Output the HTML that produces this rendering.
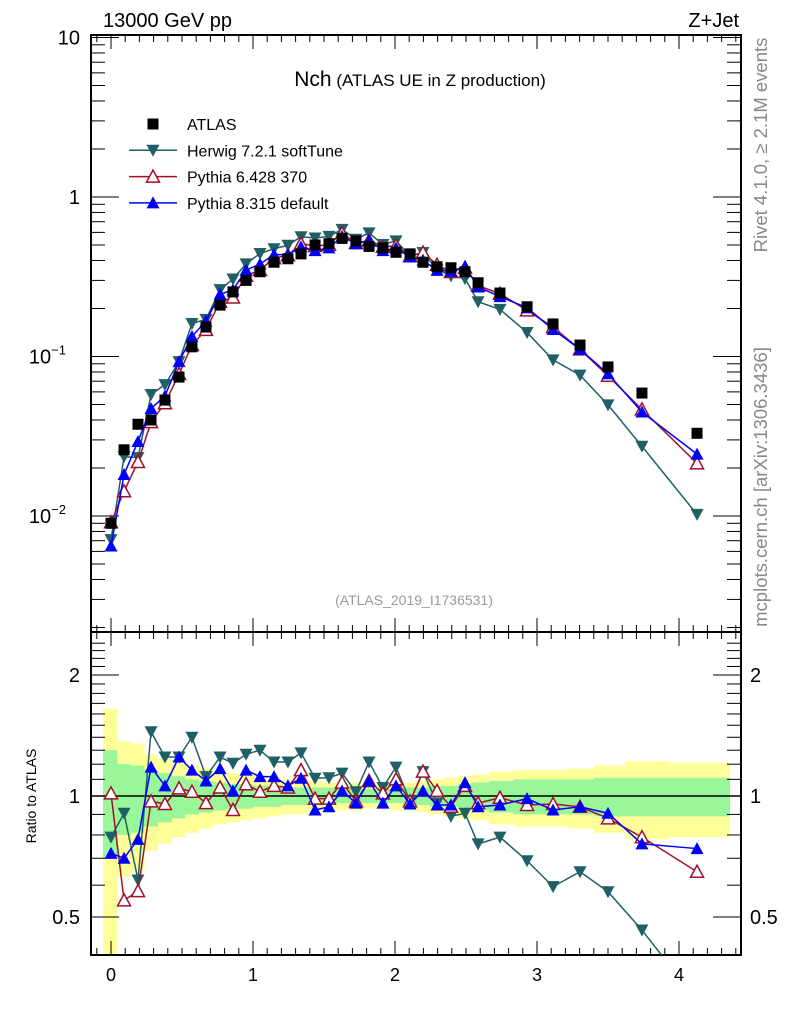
<!DOCTYPE html>
<html><head><meta charset="utf-8"><style>
body{margin:0;background:#fff;}
svg{display:block;font-family:"Liberation Sans",sans-serif;}
</style></head><body>
<svg id="c" width="786" height="1024" viewBox="0 0 786 1024" xmlns="http://www.w3.org/2000/svg">
<text x="103" y="27" font-size="20">13000 GeV pp</text>
<text x="739" y="27" font-size="20" text-anchor="end">Z+Jet</text>
<text x="420" y="86" text-anchor="middle"><tspan font-size="21">Nch</tspan><tspan font-size="17"> (ATLAS UE in Z production)</tspan></text>
<text x="414" y="605" font-size="14" fill="#999" text-anchor="middle">(ATLAS_2019_I1736531)</text>
<text transform="translate(767,145) rotate(-90)" font-size="18.5" fill="#888" text-anchor="middle">Rivet 4.1.0, ≥ 2.1M events</text>
<text transform="translate(767,487) rotate(-90)" font-size="18.5" fill="#888" text-anchor="middle">mcplots.cern.ch [arXiv:1306.3436]</text>
<text transform="translate(36,796) rotate(-90)" font-size="14" text-anchor="middle">Ratio to ATLAS</text>
<g id="bands"></g><g id="axes"></g><g id="series"></g><g id="legend"></g>
</svg>
<script>
const xs=[0,0.092,0.190,0.282,0.380,0.479,0.570,0.669,0.768,0.859,0.951,1.049,1.148,1.246,1.338,1.437,1.535,1.627,1.725,1.817,1.915,2.007,2.106,2.197,2.296,2.394,2.493,2.585,2.739,2.930,3.113,3.303,3.500,3.739,4.127];
const atlas=[0.009,0.026,0.0376,0.040,0.0533,0.0743,0.115,0.153,0.21,0.254,0.30,0.34,0.39,0.41,0.44,0.50,0.51,0.55,0.53,0.49,0.48,0.45,0.44,0.39,0.365,0.36,0.34,0.29,0.25,0.205,0.16,0.118,0.086,0.059,0.033];
const herwigRatio=[0.79,0.906,0.618,1.445,1.25,1.25,1.40,1.117,1.25,1.206,1.27,1.30,1.215,1.215,1.28,1.107,1.11,1.14,1.025,1.215,1.05,1.18,0.97,1.15,0.96,0.89,0.906,0.76,0.79,0.69,0.595,0.648,0.578,0.464,0.31];
const py6Ratio=[1.015,0.55,0.58,0.97,0.955,1.045,1.025,0.96,1.05,0.923,1.07,1.025,1.06,1.05,1.16,0.985,0.985,1.08,0.97,1.09,1.015,1.10,0.97,1.15,1.03,0.94,1.06,0.96,0.99,0.95,0.955,0.94,0.88,0.79,0.648];
const py8Ratio=[0.72,0.70,0.78,1.18,1.06,1.25,1.16,1.09,1.17,1.03,1.16,1.117,1.117,1.06,1.107,0.923,0.94,1.03,0.96,1.09,0.96,1.06,0.955,1.03,0.95,0.95,1.08,0.94,0.95,0.985,0.923,0.94,0.906,0.76,0.74];
const yellowErr=[.65,.37,.35,.27,.24,.21,.19,.17,.15,.14,.13,.12,.11,.10,.10,.09,.08,.08,.08,.07,.07,.08,.08,.09,.10,.11,.12,.13,.15,.16,.16,.17,.19,.22,.21];
const greenErr=[.30,.20,.19,.16,.14,.12,.10,.09,.08,.07,.07,.06,.06,.05,.05,.05,.05,.04,.04,.04,.04,.04,.05,.05,.06,.06,.07,.08,.09,.10,.10,.10,.11,.11,.11];
const mainTicks=[{v:10,t:"10"},{v:1,t:"1"},{v:0.1,t:"10",e:"−1"},{v:0.01,t:"10",e:"−2"}];
const ratioTicks=[2,1,0.5];
const xTicks=[0,1,2,3,4];

const NS="http://www.w3.org/2000/svg";
const L=91,R=741,T=35,MB=632,RB=955;
const X=v=>111+142*v;
const YM=v=>197-159.5*Math.log10(v);
const YR=v=>796-121*Math.log2(v);
function mk(tag,attrs,parent){const e=document.createElementNS(NS,tag);for(const k in attrs)e.setAttribute(k,attrs[k]);parent.appendChild(e);return e;}
const bands=document.getElementById('bands'),axes=document.getElementById('axes'),series=document.getElementById('series'),legend=document.getElementById('legend');

const cl=y=>Math.max(MB,Math.min(RB,y));
xs.forEach((x,i)=>{
  const x0=i==0?L+12:(X(xs[i-1])+X(x))/2;
  const x1=i==xs.length-1?730:(X(x)+X(xs[i+1]))/2;
  const ye=yellowErr[i],ge=greenErr[i];
  const yt=cl(YR(1+ye)),yb=cl(YR(Math.max(1-ye,0.01)));
  let r=mk('rect',{x:x0,y:yt,width:x1-x0,height:yb-yt,fill:'#ffff99'},bands);
  
  
  const gt=cl(YR(1+ge)),gb=cl(YR(1-ge));
  r=mk('rect',{x:x0,y:gt,width:x1-x0,height:gb-gt,fill:'#99f799'},bands);
  
  
});
let ln=mk('line',{x1:L,x2:R,y1:YR(1),y2:YR(1),stroke:'#000','stroke-width':1.5},bands);



[[T,MB],[MB,RB]].forEach(([a,b],k)=>{
  const f=mk('rect',{x:L,y:a,width:R-L,height:b-a,fill:'none',stroke:'#000','stroke-width':2},axes);
  
  
});
[[T,MB],[MB,RB]].forEach(([a,b])=>{
  for(let v=-0.1;v<=4.41;v+=0.1){
    const vv=Math.round(v*10)/10, maj=Math.abs(vv-Math.round(vv))<1e-6;
    const len=maj?14:7,xx=X(vv);
    if(xx<L||xx>R)continue;
    mk('line',{x1:xx,x2:xx,y1:b,y2:b-len,stroke:'#000','stroke-width':1},axes);
    mk('line',{x1:xx,x2:xx,y1:a,y2:a+len,stroke:'#000','stroke-width':1},axes);
  }
});
xTicks.forEach(v=>{
  const t=mk('text',{x:X(v),y:981,'font-size':18,'text-anchor':'middle'},axes);t.textContent=v;
  
  
});
for(let d=-3;d<=1;d++)for(let m=1;m<10;m++){
  const v=m*Math.pow(10,d),y=YM(v);if(y<T-1||y>MB)continue;
  const len=m==1?28:14;
  mk('line',{x1:L,x2:L+len,y1:y,y2:y,stroke:'#000','stroke-width':1},axes);
  mk('line',{x1:R,x2:R-len,y1:y,y2:y,stroke:'#000','stroke-width':1},axes);
}
mainTicks.forEach(o=>{
  const t=mk('text',{x:o.e?78:80,y:YM(o.v)+7,'font-size':20,'text-anchor':'end'},axes);
  t.textContent=o.t;
  if(o.e){const s=mk('tspan',{dy:-9,'font-size':13},t);s.textContent=o.e;t.setAttribute('x',66);t.setAttribute('text-anchor','end');}
  
  
});
for(let v=0.4;v<=2.5;v+=0.1){
  const vv=Math.round(v*10)/10,y=YR(vv);if(y<MB||y>RB)continue;
  const maj=[0.5,1,2].includes(vv),len=maj?28:14;
  mk('line',{x1:L,x2:L+len,y1:y,y2:y,stroke:'#000','stroke-width':1},axes);
  mk('line',{x1:R,x2:R-len,y1:y,y2:y,stroke:'#000','stroke-width':1},axes);
}
ratioTicks.forEach(v=>{
  [[80,'end'],[750,'start']].forEach(([x,a])=>{
    const t=mk('text',{x:x,y:YR(v)+7,'font-size':20,'text-anchor':a},axes);t.textContent=v;
    
    
  });
});

function marker(g,type,x,y,col){
  let e;
  if(type=='sq')e=mk('rect',{x:x-5.5,y:y-5.5,width:11,height:11,fill:'#000'},g);
  else if(type=='down')e=mk('polygon',{points:`${x-6.5},${y-5.5} ${x+6.5},${y-5.5} ${x},${y+6.5}`,fill:col},g);
  else if(type=='open')e=mk('polygon',{points:`${x-6.5},${y+5.5} ${x+6.5},${y+5.5} ${x},${y-6.5}`,fill:'#fff',stroke:col,'stroke-width':1.5},g);
  else e=mk('polygon',{points:`${x-6.5},${y+5.5} ${x+6.5},${y+5.5} ${x},${y-6.5}`,fill:col},g);
  return e;
}
const clipR=mk('clipPath',{id:'cr'},series);mk('rect',{x:L,y:MB,width:R-L,height:RB-MB},clipR);
const mcs=[['herwig',herwigRatio,'#1f5f66','down'],['pythia6',py6Ratio,'#a0102a','open'],['pythia8',py8Ratio,'#0000ff','up']];
mcs.forEach(([nm,rat,col,type])=>{
  const gm=mk('g',{},series);
  
  
  const pts=xs.map((x,i)=>[X(x),YM(atlas[i]*rat[i])]);
  mk('polyline',{points:pts.map(p=>p.join(',')).join(' '),fill:'none',stroke:col,'stroke-width':1.5},gm);
  pts.forEach(p=>{const m=marker(gm,type,p[0],p[1],col);});
  const gr=mk('g',{'clip-path':'url(#cr)'},series);
  
  
  const rp=xs.map((x,i)=>[X(x),YR(rat[i])]);
  mk('polyline',{points:rp.map(p=>p.join(',')).join(' '),fill:'none',stroke:col,'stroke-width':1.5},gr);
  rp.forEach(p=>{const m=marker(gr,type,p[0],p[1],col);});
});
const ga=mk('g',{},series);


xs.forEach((x,i)=>{const m=marker(ga,'sq',X(x),YM(atlas[i]));});

const leg=[['ATLAS','sq','#000',false],['Herwig 7.2.1 softTune','down','#1f5f66',true],['Pythia 6.428 370','open','#a0102a',true],['Pythia 8.315 default','up','#0000ff',true]];
leg.forEach(([t,type,col,line],i)=>{
  const y=124+26.3*i;
  const g=mk('g',{},legend);
  
  
  if(line)mk('line',{x1:129,x2:177,y1:y,y2:y,stroke:col,'stroke-width':1.5},g);
  marker(g,type,153,y,col);
  const tx=mk('text',{x:187,y:y+6,'font-size':16},g);tx.textContent=t;
});
</script>
</body></html>
